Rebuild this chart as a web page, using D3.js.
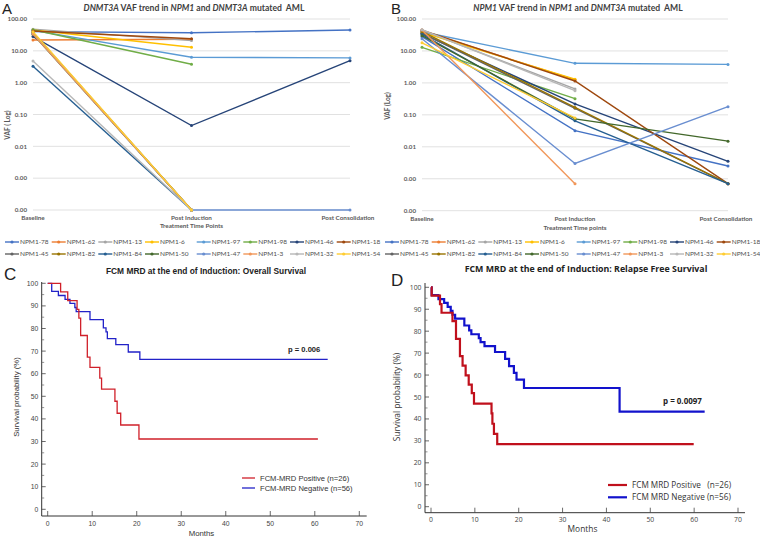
<!DOCTYPE html>
<html><head><meta charset="utf-8">
<script src="https://cdn.jsdelivr.net/npm/d3@7/dist/d3.min.js"></script>
<style>
body{margin:0;background:#fff;}
svg{display:block;}
text{white-space:pre;}
</style></head>
<body>
<svg id="c" width="760" height="537"></svg>
<script>
// ---------- DATA ----------
const timePointsA = ["Baseline", "Post Induction", "Post Consolidation"];
const timePointsB = ["Baseline", "Post Induction", "Post Consolidation"];
const logTicks = [0.0001, 0.001, 0.01, 0.1, 1, 10, 100];
const seriesNames = ["NPM1-78","NPM1-62","NPM1-13","NPM1-6","NPM1-97","NPM1-98","NPM1-46","NPM1-18",
                     "NPM1-45","NPM1-82","NPM1-84","NPM1-50","NPM1-47","NPM1-3","NPM1-32","NPM1-54"];
const seriesColors = ["#4472C4","#ED7D31","#A5A5A5","#FFC000","#5B9BD5","#70AD47","#264478","#9E480E",
                      "#636363","#997300","#255E91","#43682B","#698ED0","#F1975A","#B7B7B7","#FFCD33"];
// DNMT3A VAF (panel A); null = no sample
const vafA = [
  [40, 37, 45],
  [22, 23, null],
  [48, 21, null],
  [45, 13, null],
  [44, 6.3, 6.0],
  [46, 3.8, null],
  [28, 0.045, 4.9],
  [42, 24, null],
  [36, 0.0001, null],
  [38, 0.0001, null],
  [3.3, 0.0001, null],
  [33, 0.0001, null],
  [35, 0.0001, 0.0001],
  [34, 0.0001, null],
  [4.8, 0.0001, null],
  [40, 0.0001, null]
];
// NPM1 VAF (panel B)
const vafB = [
  [28, 0.032, 0.0025],
  [42, 1.25, null],
  [44, 0.65, null],
  [38, 1.3, null],
  [40, 4.1, 3.8],
  [13, 0.32, null],
  [35, 0.22, 0.0035],
  [45, 1.15, 0.0007],
  [36, 0.16, 0.0007],
  [40, 0.17, 0.0007],
  [33, 0.065, 0.0007],
  [30, 0.075, 0.015],
  [24, 0.003, 0.18],
  [45, 0.0007, null],
  [46, 0.57, null],
  [18, 0.08, null]
];
// Kaplan-Meier: Overall survival (panel C)
const osPosTime = [0, 2.9, 4.5, 6.6, 7.0, 7.4, 8.9, 9.5, 11.7, 12.1, 15.1, 15.6, 16.4, 20.5];
const osPosSurv = [100, 96.2, 92.3, 88.5, 84.6, 76.9, 67.3, 62.8, 58.0, 53.2, 47.8, 42.5, 37.3, 31.1];
const osPosEnd = 60.7;
const osNegTime = [0, 0.9, 2.4, 3.9, 5.0, 6.1, 6.4, 9.5, 12.5, 13.1, 13.4, 15.3, 18.1, 20.7];
const osNegSurv = [100, 96.4, 94.6, 92.9, 91.1, 89.3, 87.5, 83.9, 80.3, 78.5, 75.5, 72.9, 69.6, 66.3];
const osNegEnd = 62.9;
// Kaplan-Meier: Relapse free survival (panel D)
const rfsPosTime = [0, 0.15, 2.05, 2.4, 4.9, 5.7, 6.6, 7.2, 7.9, 8.6, 9.3, 9.8, 13.8, 14.0, 14.35, 15.1];
const rfsPosSurv = [100, 96.2, 92.3, 88.4, 84.6, 76.5, 68.6, 64.3, 59.9, 55.6, 51.8, 47.0, 42.5, 37.8, 33.2, 28.5];
const rfsPosEnd = 59.9;
const rfsNegTime = [0, 0.15, 1.7, 3.0, 3.8, 4.5, 4.9, 5.5, 7.6, 8.7, 9.2, 10.9, 11.3, 12.2, 14.6, 16.9, 17.8, 18.9, 19.5, 21.2, 43.0];
const rfsNegSurv = [100, 96.4, 94.6, 92.9, 91.1, 89.3, 87.5, 85.7, 82.6, 80.4, 78.6, 76.8, 75.0, 73.2, 70.5, 67.4, 64.1, 61.0, 57.9, 54.1, 43.3];
const rfsNegEnd = 62.4;
const kmTicksY = [0,10,20,30,40,50,60,70,80,90,100];
const kmTicksX = [0,10,20,30,40,50,60,70];

// ---------- DRAW ----------
const svg = d3.select("#c");
const fmt = d3.format(".2f");
const legendCols = [0, 46.7, 93.3, 140, 191.7, 238.3, 285, 331.7];

function vafPanel(opts){
  const g = svg.append("g");
  const x = d3.scalePoint().domain(opts.cats).range([opts.x0, opts.x1]);
  const y = d3.scaleLog().domain([0.0001, 100]).range([opts.yB, opts.yT]);
  // gridlines
  g.selectAll("line.grid").data(logTicks).join("line")
    .attr("x1", opts.x0).attr("x2", opts.x1)
    .attr("y1", d => y(d)).attr("y2", d => y(d))
    .attr("stroke", "#D9D9D9").attr("stroke-width", 0.8);
  g.selectAll("text.tl").data(logTicks).join("text")
    .attr("x", opts.x0 - 6).attr("y", d => y(d) + 2.2)
    .attr("text-anchor", "end").attr("font-family", "Lato, sans-serif")
    .attr("font-size", 6.2).attr("font-weight", "bold").attr("fill", "#595959")
    .text(d => fmt(d));
  // category labels
  opts.cats.forEach((c, i) => {
    let cx = x(c);
    if (i === 2) cx = x(c) - 2;
    g.append("text").attr("x", cx).attr("y", opts.yB + 10)
      .attr("text-anchor", "middle").attr("font-family", "Lato, sans-serif")
      .attr("font-size", 6.3).attr("font-weight", "bold").attr("fill", "#595959").text(c);
  });
  g.append("text").attr("x", x(opts.cats[1])).attr("y", opts.yB + opts.subDy)
    .attr("text-anchor", "middle").attr("font-family", "Lato, sans-serif")
    .attr("font-size", 6.3).attr("font-weight", "bold").attr("fill", "#595959").text(opts.xTitle);
  // y title
  g.append("text").attr("transform", `translate(${opts.yTitleX},${opts.yTitleY}) rotate(-90)`)
    .attr("text-anchor", "middle").attr("font-family", "Lato, sans-serif")
    .attr("font-size", 6.5).attr("font-weight", "bold").attr("fill", "#595959").text(opts.yTitle);
  // series
  const line = d3.line().defined(d => d.v != null).x(d => x(d.c)).y(d => y(d.v));
  opts.data.forEach((vals, i) => {
    const pts = vals.map((v, j) => ({c: opts.cats[j], v}));
    g.append("path").datum(pts).attr("d", line).attr("fill", "none")
      .attr("stroke", seriesColors[i]).attr("stroke-width", 1.4);
    g.selectAll(null).data(pts.filter(p => p.v != null)).join("circle")
      .attr("cx", d => x(d.c)).attr("cy", d => y(d.v)).attr("r", 1.5)
      .attr("fill", seriesColors[i]);
  });
  // title
  const t = g.append("text").attr("x", opts.titleX).attr("y", 11).attr("text-anchor", "middle")
    .attr("font-family", "Lato, sans-serif").attr("font-size", 8.6).attr("font-weight", "bold").attr("fill", "#404040");
  opts.title.forEach(([s, it]) => t.append("tspan").attr("font-style", it ? "italic" : "normal").text(s));
  // legend
  seriesNames.forEach((n, i) => {
    const row = Math.floor(i / 8), col = i % 8;
    const lx = opts.legX + legendCols[col], ly = opts.legY + row * 12;
    g.append("line").attr("x1", lx).attr("x2", lx + 14).attr("y1", ly).attr("y2", ly)
      .attr("stroke", seriesColors[i]).attr("stroke-width", 1.4);
    g.append("circle").attr("cx", lx + 7).attr("cy", ly).attr("r", 1.6).attr("fill", seriesColors[i]);
    g.append("text").attr("x", lx + 15).attr("y", ly + 2.3)
      .attr("font-family", "Lato, sans-serif").attr("font-size", 6.5).attr("fill", "#505050").text(n);
  });
  // panel letter
  svg.append("text").attr("x", opts.letterX).attr("y", 14).attr("font-family", "Liberation Sans, Arial, sans-serif")
    .attr("font-size", 15).attr("fill", "#222").text(opts.letter);
}

vafPanel({cats: timePointsA, x0: 33, x1: 350, yT: 19, yB: 210, data: vafA,
  title: [["DNMT3A", true], [" VAF trend in ", false], ["NPM1", true], [" and ", false], ["DNMT3A", true], [" mutated  AML", false]],
  titleX: 194, xTitle: "Treatment Time Points", subDy: 17.5, yTitle: "VAF ( Log)", yTitleX: 10, yTitleY: 125,
  legX: 5, legY: 242, letter: "A", letterX: 2});
vafPanel({cats: timePointsB, x0: 422, x1: 728, yT: 19, yB: 210.7, data: vafB,
  title: [["NPM1", true], [" VAF trend in ", false], ["NPM1", true], [" and ", false], ["DNMT3A", true], [" mutated  AML", false]],
  titleX: 578, xTitle: "Treatment Time points", subDy: 19, yTitle: "VAF (Log)", yTitleX: 390, yTitleY: 106,
  legX: 385, legY: 242, letter: "B", letterX: 391});

function kmPanel(o){
  const g = svg.append("g");
  const x = d3.scaleLinear().domain([0, 70]).range([o.x0, o.x70]);
  const y = d3.scaleLinear().domain([0, 100]).range([o.y0, o.y100]);
  const ff = o.font;
  // axes lines
  g.append("line").attr("x1", o.axX).attr("x2", o.axX).attr("y1", o.axTop).attr("y2", o.axY)
    .attr("stroke", "#333").attr("stroke-width", 1);
  g.append("line").attr("x1", o.axX).attr("x2", o.axRight).attr("y1", o.axY).attr("y2", o.axY)
    .attr("stroke", "#333").attr("stroke-width", 1);
  // y ticks
  const minorY = d3.range(5, 100, 10);
  g.selectAll(null).data(kmTicksY).join("line")
    .attr("x1", o.axX).attr("x2", o.axX + 4).attr("y1", d => y(d)).attr("y2", d => y(d))
    .attr("stroke", "#444").attr("stroke-width", 0.8);
  g.selectAll(null).data(minorY).join("line")
    .attr("x1", o.axX).attr("x2", o.axX + 2.5).attr("y1", d => y(d)).attr("y2", d => y(d))
    .attr("stroke", "#666").attr("stroke-width", 0.7);
  g.selectAll(null).data(kmTicksY).join("text")
    .attr("x", o.axX - 3.5).attr("y", d => y(d) + 2.5).attr("text-anchor", "end")
    .attr("font-family", ff).attr("font-size", o.tickFs).attr("fill", "#444").text(d => d);
  // x ticks
  g.selectAll(null).data(kmTicksX).join("line")
    .attr("x1", d => x(d)).attr("x2", d => x(d)).attr("y1", o.axY).attr("y2", o.axY - 5)
    .attr("stroke", "#444").attr("stroke-width", 0.8);
  g.selectAll(null).data(kmTicksX).join("text")
    .attr("x", d => x(d)).attr("y", o.axY + 9.5).attr("text-anchor", "middle")
    .attr("font-family", ff).attr("font-size", o.tickFs).attr("fill", "#444").text(d => d);
  g.append("text").attr("x", (o.x0 + o.x70) / 2 - 2).attr("y", o.axY + 19.5).attr("text-anchor", "middle")
    .attr("font-family", ff).attr("font-size", o.labFs).attr("fill", "#333").text("Months");
  g.append("text").attr("transform", `translate(${o.yLabX},${o.yLabY}) rotate(-90)`).attr("text-anchor", "middle")
    .attr("font-family", ff).attr("font-size", o.labFs).attr("fill", "#333").text("Survival probability (%)");
  // curves
  const line = d3.line().curve(d3.curveStepAfter).x(d => x(d[0])).y(d => y(d[1]));
  [[o.negT, o.negS, o.negEnd, o.blue], [o.posT, o.posS, o.posEnd, o.red]].forEach(([T, S, E, col]) => {
    const pts = T.map((t, i) => [t, S[i]]);
    pts.push([E, S[S.length - 1]]);
    g.append("path").datum(pts).attr("d", line).attr("fill", "none")
      .attr("stroke", col).attr("stroke-width", o.lw);
  });
  // p value
  g.append("text").attr("x", o.pX).attr("y", o.pY).attr("font-family", ff).attr("font-weight", "bold")
    .attr("font-size", o.pFs).attr("fill", "#222").text(o.pText);
  // legend
  [[o.red, o.legPos], [o.blue, o.legNeg]].forEach(([col, txt], i) => {
    const ly = o.legY + i * o.legDy;
    g.append("line").attr("x1", o.legX).attr("x2", o.legX + o.legLen).attr("y1", ly).attr("y2", ly)
      .attr("stroke", col).attr("stroke-width", o.lw);
    g.append("text").attr("x", o.legX + o.legLen + 5).attr("y", ly + 3).attr("font-family", ff)
      .attr("font-size", o.legFs).attr("fill", "#333").text(txt);
  });
  // title
  g.append("text").attr("x", o.titleX).attr("y", o.titleY).attr("text-anchor", "middle")
    .attr("font-family", ff).attr("font-weight", "bold").attr("font-size", o.titleFs).attr("fill", "#222").text(o.title);
  svg.append("text").attr("x", o.letterX).attr("y", o.letterY).attr("font-family", "Liberation Sans, Arial, sans-serif")
    .attr("font-size", 17).attr("fill", "#222").text(o.letter);
}

kmPanel({x0: 47.7, x70: 359.3, y0: 509.3, y100: 283.3, axX: 41.7, axY: 516, axTop: 282, axRight: 366.7,
  font: "Liberation Sans, Arial, sans-serif", tickFs: 6.8, labFs: 7.8,
  posT: osPosTime, posS: osPosSurv, posEnd: osPosEnd, negT: osNegTime, negS: osNegSurv, negEnd: osNegEnd,
  red: "#D0202A", blue: "#2222C8", lw: 1.3,
  pX: 288, pY: 352, pFs: 7.6, pText: "p = 0.006",
  legX: 242, legY: 478, legDy: 10, legLen: 13, legFs: 7.6,
  legPos: "FCM-MRD Positive (n=26)", legNeg: "FCM-MRD Negative (n=56)",
  yLabX: 19, yLabY: 397, title: "FCM MRD at the end of Induction: Overall Survival", titleX: 206, titleY: 274, titleFs: 8.4,
  letter: "C", letterX: 4, letterY: 280});

kmPanel({x0: 431, x70: 738, y0: 506.7, y100: 287.3, axX: 425, axY: 512.7, axTop: 283, axRight: 745,
  font: "Open Sans, sans-serif", tickFs: 6.8, labFs: 8.4,
  posT: rfsPosTime, posS: rfsPosSurv, posEnd: rfsPosEnd, negT: rfsNegTime, negS: rfsNegSurv, negEnd: rfsNegEnd,
  red: "#C0101C", blue: "#1212CC", lw: 2.2,
  pX: 663, pY: 404, pFs: 8, pText: "p = 0.0097",
  legX: 608, legY: 485, legDy: 12.3, legLen: 19, legFs: 8.2,
  legPos: "FCM MRD Positive   (n=26)", legNeg: "FCM MRD Negative (n=56)",
  yLabX: 400, yLabY: 397, title: "FCM MRD at the end of Induction: Relapse Free Survival", titleX: 586, titleY: 272, titleFs: 8.8,
  letter: "D", letterX: 391, letterY: 286});
</script>
</body></html>
